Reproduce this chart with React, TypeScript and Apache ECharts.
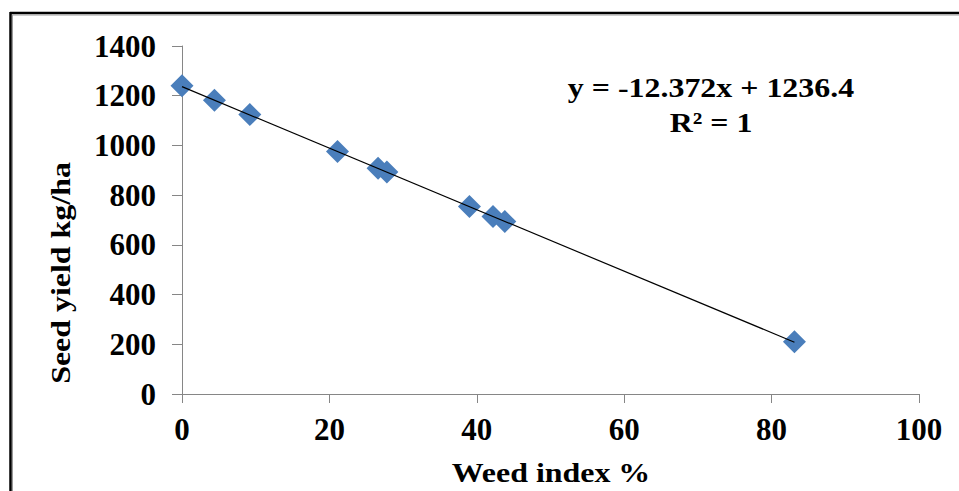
import React, { useEffect, useRef } from "react";
import * as echarts from "echarts";

const weedIndex = [0, 4.4, 9.2, 21.1, 26.6, 27.8, 39.0, 42.2, 43.8, 83.1];
const seedYield = [1240, 1182, 1124, 976, 908, 893, 754, 714, 694, 210];
const trendX = [0, 83.1];
const trendY = [1236.4, 208.3];
const xTicks = [0, 20, 40, 60, 80, 100];
const yTicks = [0, 200, 400, 600, 800, 1000, 1200, 1400];
const equationText = "y = -12.372x + 1236.4";
const r2Text = "R² = 1";
const xTitle = "Weed index %";
const yTitle = "Seed yield kg/ha";

const FONT = "Liberation Serif";
const FS = 28;
const LABEL_FS = 31;

export default function App() {
  const ref = useRef<HTMLDivElement>(null);
  useEffect(() => {
    if (!ref.current) return;
    const chart = echarts.init(ref.current, undefined, { renderer: "svg" });
    const axisColor = "#868686";
    const txt = (text: string, x: number, y: number, extra: any = {}) => ({
      type: "text",
      x,
      y,
      scaleX: 1.14,
      ...extra,
      style: {
        text,
        fill: "#000",
        fontFamily: FONT,
        fontWeight: "bold",
        fontSize: FS,
        textAlign: "center",
        textVerticalAlign: "middle",
      },
    });
    chart.setOption({
      animation: false,
      backgroundColor: "#ffffff",
      textStyle: { fontFamily: FONT },
      grid: { left: 182, right: 40, top: 46, bottom: 97, containLabel: false },
      xAxis: {
        type: "value",
        min: xTicks[0],
        max: xTicks[xTicks.length - 1],
        interval: 20,
        splitLine: { show: false },
        axisLine: { show: true, lineStyle: { color: axisColor, width: 1 } },
        axisTick: { show: true, inside: false, length: 9, lineStyle: { color: axisColor } },
        axisLabel: {
          margin: 20,
          color: "#000",
          fontFamily: FONT,
          fontWeight: "bold",
          fontSize: LABEL_FS,
          formatter: (v: number) => String(v),
        },
      },
      yAxis: {
        type: "value",
        min: yTicks[0],
        max: yTicks[yTicks.length - 1],
        interval: 200,
        splitLine: { show: false },
        axisLine: { show: true, lineStyle: { color: axisColor, width: 1 } },
        axisTick: { show: true, inside: false, length: 10, lineStyle: { color: axisColor } },
        axisLabel: {
          margin: 26,
          color: "#000",
          fontFamily: FONT,
          fontWeight: "bold",
          fontSize: LABEL_FS,
          formatter: (v: number) => String(v),
        },
      },
      series: [
        {
          type: "scatter",
          symbol: "diamond",
          symbolSize: 23,
          itemStyle: { color: "#4A7EBB", opacity: 1 },
          data: weedIndex.map((x, i) => [x, seedYield[i]]),
          z: 2,
        },
        {
          type: "line",
          symbol: "none",
          lineStyle: { color: "#000", width: 1.2 },
          data: trendX.map((x, i) => [x, trendY[i]]),
          z: 3,
        },
      ],
      graphic: [
        {
          type: "line",
          shape: { x1: 10, y1: 13, x2: 959, y2: 13 },
          style: { stroke: "#000", lineWidth: 2.5 },
        },
        {
          type: "line",
          shape: { x1: 12, y1: 15, x2: 959, y2: 15 },
          style: { stroke: "#9a9a9a", lineWidth: 1 },
        },
        {
          type: "line",
          shape: { x1: 10.5, y1: 12, x2: 10.5, y2: 491 },
          style: { stroke: "#000", lineWidth: 2.5 },
        },
        {
          type: "line",
          shape: { x1: 12.5, y1: 15, x2: 12.5, y2: 491 },
          style: { stroke: "#9a9a9a", lineWidth: 1 },
        },
        txt(equationText, 711, 87),
        txt(r2Text, 711, 122),
        txt(xTitle, 551, 472),
        txt(yTitle, 60, 273, { rotation: Math.PI / 2 }),
      ],
    });
    return () => chart.dispose();
  }, []);
  return (
    <div
      ref={ref}
      style={{ position: "absolute", left: 0, top: 0, width: 959, height: 491 }}
    />
  );
}
